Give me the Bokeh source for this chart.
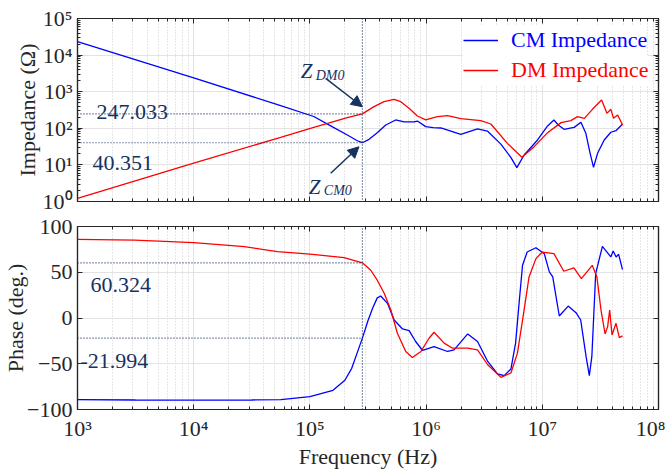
from bokeh.plotting import figure
from bokeh.layouts import column
from bokeh.models import (Range1d, FixedTicker, LogAxis, LinearAxis, CustomJSTickFormatter,
                          Arrow, NormalHead, Label, Legend, LegendItem)
from bokeh.embed import file_html
from bokeh.resources import INLINE

# ---------------------------------------------------------------- data
# Common-mode impedance magnitude (Hz, ohm)
CM_Z_FREQ = [1.0e3, 1.0e4, 5.6e4, 1.08e5, 1.51e5, 2.10e5, 2.56e5, 2.83e5, 3.23e5, 3.80e5,
             4.49e5, 5.47e5, 6.46e5, 7.87e5, 8.41e5, 9.93e5, 1.15e6, 1.34e6, 1.99e6, 2.77e6,
             3.37e6, 4.40e6, 5.36e6, 6.04e6, 6.98e6, 9.10e6, 1.11e7, 1.26e7, 1.37e7, 1.54e7,
             1.88e7, 2.15e7, 2.37e7, 2.58e7, 2.76e7, 2.99e7, 3.41e7, 3.89e7, 4.30e7, 4.91e7]
CM_Z_OHM = [23200, 2400, 415, 210, 116, 65.6, 45.7, 40.351, 50, 76,
            123, 169, 149, 149, 158, 111, 104, 102, 68, 96,
            84, 37, 16.1, 8.4, 18.7, 48, 116, 169, 123, 94,
            106, 146, 73, 20.7, 8.6, 20.7, 48, 78, 86, 131]

# Differential-mode impedance magnitude (Hz, ohm)
DM_Z_FREQ = [1.0e3, 1.0e4, 5.6e4, 1.08e5, 2.10e5, 2.83e5, 3.56e5, 4.35e5, 5.30e5, 6.05e5,
             7.13e5, 8.41e5, 9.93e5, 1.25e6, 1.53e6, 1.99e6, 2.95e6, 3.61e6, 5.01e6, 6.67e6,
             8.51e6, 1.11e7, 1.45e7, 1.76e7, 2.01e7, 2.30e7, 2.70e7, 3.24e7, 3.60e7, 3.89e7,
             4.10e7, 4.45e7, 4.91e7]
DM_Z_OHM = [1.22, 11.1, 56.6, 106, 195, 247.033, 390, 535, 620, 535,
            352, 217, 169, 208, 221, 183, 162, 131, 38.8, 16.1,
            31.5, 76, 143, 162, 208, 187, 330, 593, 256, 330,
            187, 231, 123]

# Common-mode impedance phase (Hz, degrees)
CM_PH_FREQ = [1.0e3, 3.16e3, 1.0e4, 3.16e4, 5.62e4, 1.0e5, 1.58e5, 2.0e5, 2.29e5, 2.57e5,
              2.83e5, 3.16e5, 3.47e5, 3.80e5, 4.07e5, 4.65e5, 5.31e5, 6.27e5, 7.14e5, 8.13e5,
              9.33e5, 1.17e6, 1.53e6, 1.74e6, 2.28e6, 2.77e6, 3.39e6, 4.12e6, 4.70e6, 5.37e6,
              5.89e6, 6.31e6, 6.76e6, 7.41e6, 8.81e6, 1.04e7, 1.15e7, 1.23e7, 1.40e7, 1.67e7,
              1.95e7, 2.14e7, 2.38e7, 2.54e7, 2.67e7, 2.88e7, 3.29e7, 3.89e7, 4.07e7, 4.32e7,
              4.54e7, 4.90e7]
CM_PH_DEG = [-89.3, -89.6, -89.8, -89.6, -89.1, -86.0, -79.0, -68.0, -55.0, -37.0,
             -21.994, -3.0, 11.0, 22.0, 24.0, 16.0, -2.2, -12.0, -13.8, -25.7,
             -35.5, -31.2, -36.6, -34.8, -17.4, -25.7, -47.5, -61.2, -63.0, -55.8,
             -27.5, 16.0, 57.6, 72.1, 76.8, 70.3, 50.4, 45.0, 2.2, 13.0,
             5.8, -2.2, -42.0, -63.0, -42.0, 48.6, 78.3, 66.7, 73.2, 66.7,
             69.6, 52.9]

# Differential-mode impedance phase (Hz, degrees)
DM_PH_FREQ = [1.0e3, 3.1e3, 1.0e4, 2.73e4, 5.25e4, 1.0e5, 1.97e5, 2.83e5, 3.34e5, 3.80e5,
              4.37e5, 4.97e5, 5.66e5, 6.68e5, 7.62e5, 9.02e5, 1.06e6, 1.17e6, 1.43e6, 1.69e6,
              2.28e6, 2.77e6, 3.39e6, 4.40e6, 5.37e6, 6.11e6, 6.97e6, 7.69e6, 8.81e6, 1.0e7,
              1.26e7, 1.53e7, 1.87e7, 2.17e7, 2.69e7, 2.95e7, 3.20e7, 3.47e7, 3.65e7, 3.80e7,
              3.98e7, 4.31e7, 4.60e7, 4.90e7]
DM_PH_DEG = [85.9, 85.2, 82.3, 77.9, 72.5, 69.8, 66.0, 60.324, 52.2, 41.3,
             26.8, 8.7, -16.7, -36.6, -43.1, -36.6, -22.1, -15.6, -27.5, -33.0,
             -33.0, -34.8, -51.1, -64.9, -60.1, -38.4, 8.7, 44.9, 64.9, 72.1,
             70.3, 51.1, 54.7, 43.1, 57.6, 44.9, 8.7, -17.4, -9.4, 8.7,
             -18.5, -5.8, -21.4, -19.6]

# Marked operating point
F0 = 2.83e5
Z_DM0 = 247.033
Z_CM0 = 40.351
PH_DM0 = 60.324
PH_CM0 = -21.994

X_TICKS = [1e3, 1e4, 1e5, 1e6, 1e7, 1e8]
X_TICK_LABELS = ["10³", "10⁴", "10⁵", "10⁶", "10⁷", "10⁸"]
Z_TICKS = [1, 10, 100, 1e3, 1e4, 1e5]
Z_TICK_LABELS = ["10⁰", "10¹", "10²", "10³", "10⁴", "10⁵"]
PH_TICKS = [-100, -50, 0, 50, 100]

# ---------------------------------------------------------------- style
FONT = "Liberation Serif"
INK = "#262626"
NOTE = "#16325f"
GRID = "#e3e3e3"
MINOR = "#cfcfcf"
BLUE = "#0000ff"
RED = "#ff0000"
FS = "22px"


def decade_minors(lo_exp, hi_exp):
    return [m * 10.0 ** e for e in range(lo_exp, hi_exp) for m in range(2, 10)]


def log_labels(tick_vals, tick_text):
    return CustomJSTickFormatter(args=dict(tick_vals=tick_vals, tick_text=tick_text), code="""
        for (let i = 0; i < tick_vals.length; i++) {
            if (Math.abs(Math.log10(tick) - Math.log10(tick_vals[i])) < 1e-6) return tick_text[i];
        }
        return "";
    """)


def blank():
    return CustomJSTickFormatter(code="return '';")


x_ticker = FixedTicker(ticks=X_TICKS, minor_ticks=decade_minors(3, 8))
z_ticker = FixedTicker(ticks=Z_TICKS, minor_ticks=decade_minors(0, 5))
ph_ticker = FixedTicker(ticks=PH_TICKS, minor_ticks=[])


def style_axis(ax, show_labels=True):
    ax.axis_line_color = INK
    ax.axis_line_width = 1.2
    ax.major_tick_in = 5
    ax.major_tick_out = 0
    ax.minor_tick_in = 3
    ax.minor_tick_out = 0
    ax.major_tick_line_color = INK
    ax.minor_tick_line_color = INK
    ax.major_label_text_font = FONT
    ax.major_label_text_font_size = FS
    ax.major_label_text_color = INK
    ax.axis_label_text_font = FONT
    ax.axis_label_text_font_size = FS
    ax.axis_label_text_font_style = "normal"
    ax.axis_label_text_color = INK
    if show_labels:
        ax.major_label_standoff = 5
    else:
        ax.major_label_standoff = 0
        ax.formatter = blank()


def style_grid(p):
    p.xgrid.ticker = x_ticker
    p.xgrid.grid_line_color = GRID
    p.xgrid.minor_grid_line_color = MINOR
    p.xgrid.minor_grid_line_dash = "1 2"
    p.ygrid.grid_line_color = GRID
    p.ygrid.minor_grid_line_color = None
    p.outline_line_color = INK
    p.outline_line_width = 1.2
    p.background_fill_color = "white"
    p.border_fill_color = "white"


def mirror_axes(p, axis_cls_y, y_ticker, y_minor=True):
    top = LogAxis(ticker=x_ticker)
    style_axis(top, show_labels=False)
    p.add_layout(top, "above")
    right = axis_cls_y(ticker=y_ticker)
    style_axis(right, show_labels=False)
    if not y_minor:
        right.minor_tick_in = 0
    p.add_layout(right, "right")


def dotted_guide(p, x0, y0, x1, y1):
    p.segment(x0=[x0], y0=[y0], x1=[x1], y1=[y1], line_color=NOTE,
              line_dash="1 2", line_width=1.2)


def value_note(p, x, y, text, dx, dy):
    p.add_layout(Label(x=x, y=y, text=text, x_offset=dx, y_offset=dy,
                       text_font=FONT, text_font_size=FS, text_color=NOTE,
                       text_baseline="alphabetic"))


# ---------------------------------------------------------------- magnitude panel
x_range = Range1d(1e3, 1e8)

p1 = figure(width=665, height=214, x_axis_type="log", y_axis_type="log",
            x_range=x_range, y_range=Range1d(1, 1e5),
            output_backend="svg", toolbar_location=None,
            min_border_left=77, min_border_right=7, min_border_top=18, min_border_bottom=13)
p1.xaxis.ticker = x_ticker
p1.yaxis.ticker = z_ticker
p1.ygrid.ticker = z_ticker
style_axis(p1.xaxis[0], show_labels=False)
style_axis(p1.yaxis[0])
p1.yaxis.formatter = log_labels(Z_TICKS, Z_TICK_LABELS)
p1.yaxis.axis_label = "Impedance (Ω)"
p1.yaxis.axis_label_standoff = 0
style_grid(p1)
mirror_axes(p1, LogAxis, z_ticker)

cm_line = p1.line(CM_Z_FREQ, CM_Z_OHM, line_color=BLUE, line_width=1.3)
dm_line = p1.line(DM_Z_FREQ, DM_Z_OHM, line_color=RED, line_width=1.3)

dotted_guide(p1, X_TICKS[0], Z_DM0, F0, Z_DM0)
dotted_guide(p1, X_TICKS[0], Z_CM0, F0, Z_CM0)
p1.add_layout(Arrow(end=None, x_start=F0, y_start=1e5, x_end=F0, y_end=0.05,
                    line_color=NOTE, line_dash="1 2", line_width=1.2))
value_note(p1, X_TICKS[0], Z_DM0, f"{Z_DM0:.3f}", 19, 2)
value_note(p1, X_TICKS[0], Z_CM0, f"{Z_CM0:.3f}", 15, -20)

# callouts for the two impedances at F0
head = dict(size=11, fill_color=NOTE, line_color=NOTE)
p1.add_layout(Arrow(end=NormalHead(**head), x_start=10 ** 5.136, y_start=10 ** 3.366,
                    x_end=F0, y_end=Z_DM0 * 1.57, line_color=NOTE, line_width=1.5))
p1.add_layout(Arrow(end=NormalHead(**head), x_start=10 ** 5.179, y_start=10 ** 0.77,
                    x_end=F0 / 1.07, y_end=Z_CM0 / 1.29, line_color=NOTE, line_width=1.5))
for zx, zy, sx, sy, sub in [(10 ** 4.921, 10 ** 3.574, 10 ** 5.05, 10 ** 3.456, "DM0"),
                            (10 ** 4.99, 10 ** 0.404, 10 ** 5.12, 10 ** 0.314, "CM0")]:
    p1.add_layout(Label(x=zx, y=zy, text="Z", text_font=FONT, text_font_size="21px",
                        text_font_style="italic", text_color=NOTE, text_baseline="alphabetic"))
    p1.add_layout(Label(x=sx, y=sy, text=sub, text_font=FONT, text_font_size="14px",
                        text_font_style="italic", text_color=NOTE, text_baseline="alphabetic"))

# legend: one entry per colour so each label takes its line colour
for renderer, name, colour, bottom in [(cm_line, "CM Impedance", BLUE, 146),
                                       (dm_line, "DM Impedance", RED, 116)]:
    lg = Legend(items=[LegendItem(label=name, renderers=[renderer])],
                location=(386, bottom), padding=0, margin=0, spacing=0,
                glyph_width=35, glyph_height=30, label_height=30, label_standoff=13,
                label_text_font=FONT, label_text_font_size=FS, label_text_color=colour,
                border_line_color=None, background_fill_color="white",
                background_fill_alpha=1.0)
    p1.add_layout(lg, "center")

# ---------------------------------------------------------------- phase panel
p2 = figure(width=665, height=257, x_axis_type="log",
            x_range=x_range, y_range=Range1d(-100, 100),
            output_backend="svg", toolbar_location=None,
            min_border_left=77, min_border_right=7, min_border_top=12, min_border_bottom=61)
p2.xaxis.ticker = x_ticker
p2.yaxis.ticker = ph_ticker
p2.ygrid.ticker = ph_ticker
style_axis(p2.xaxis[0])
style_axis(p2.yaxis[0])
p2.xaxis.major_label_standoff = 6
p2.xaxis.formatter = log_labels(X_TICKS, X_TICK_LABELS)
p2.xaxis.axis_label = "Frequency (Hz)"
p2.xaxis.axis_label_standoff = 0
p2.yaxis.axis_label = "Phase (deg.)"
p2.yaxis.axis_label_standoff = -4
p2.yaxis.minor_tick_in = 0
style_grid(p2)
mirror_axes(p2, LinearAxis, ph_ticker, y_minor=False)

p2.line(CM_PH_FREQ, CM_PH_DEG, line_color=BLUE, line_width=1.3)
p2.line(DM_PH_FREQ, DM_PH_DEG, line_color=RED, line_width=1.3)

dotted_guide(p2, X_TICKS[0], PH_DM0, F0, PH_DM0)
dotted_guide(p2, X_TICKS[0], PH_CM0, F0, PH_CM0)
p2.add_layout(Arrow(end=None, x_start=F0, y_start=-100, x_end=F0, y_end=160,
                    line_color=NOTE, line_dash="1 2", line_width=1.2))
value_note(p2, X_TICKS[0], PH_DM0, f"{PH_DM0:.3f}", 13, -22)
value_note(p2, X_TICKS[0], PH_CM0, f"{PH_CM0:.3f}", 3, -23)

layout = column(p1, p2, spacing=0)
open("out.html", "w").write(file_html(layout, INLINE))
